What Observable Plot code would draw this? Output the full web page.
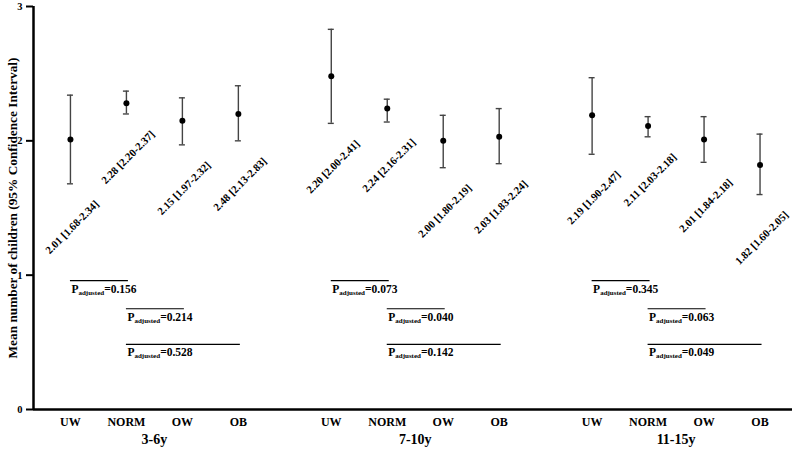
<!DOCTYPE html>
<html><head><meta charset="utf-8">
<script src="https://cdn.jsdelivr.net/npm/d3@7"></script>
<script src="https://cdn.jsdelivr.net/npm/@observablehq/plot@0.6"></script>
<style>
body{margin:0;background:#fff}
svg text{font-weight:bold}
</style>
</head><body><div id="chart"></div>
<script>
const groups = ["3-6y", "7-10y", "11-15y"];
const categories = ["UW", "NORM", "OW", "OB"];
// plotted means and 95% CI (as drawn), grouped 3-6y, 7-10y, 11-15y
const means = [2.01, 2.28, 2.15, 2.20, 2.48, 2.24, 2.00, 2.03, 2.19, 2.11, 2.01, 1.82];
const lower = [1.68, 2.20, 1.97, 2.00, 2.13, 2.14, 1.80, 1.83, 1.90, 2.03, 1.84, 1.60];
const upper = [2.34, 2.37, 2.32, 2.41, 2.83, 2.31, 2.19, 2.24, 2.47, 2.18, 2.18, 2.05];
const ciLabels = ["2.01 [1.68-2.34]", "2.28 [2.20-2.37]", "2.15 [1.97-2.32]", "2.48 [2.13-2.83]",
                  "2.20 [2.00-2.41]", "2.24 [2.16-2.31]", "2.00 [1.80-2.19]", "2.03 [1.83-2.24]",
                  "2.19 [1.90-2.47]", "2.11 [2.03-2.18]", "2.01 [1.84-2.18]", "1.82 [1.60-2.05]"];
const comparisons = [["UW", "NORM"], ["NORM", "OW"], ["NORM", "OB"]];
const pValues = [["0.156", "0.214", "0.528"], ["0.073", "0.040", "0.142"], ["0.345", "0.063", "0.049"]];
const bracketLevels = [0.96, 0.75, 0.485];
const yTicks = [0, 1, 2, 3];
const yLabel = "Mean number of children (95% Confidence Interval)";

// layout: category slot position on a linear x scale
const groupStep = 4.66;
const pos = (g, c) => g * groupStep + categories.indexOf(c);

const rows = [];
groups.forEach((g, gi) => categories.forEach((c, ci) => {
  const k = gi * categories.length + ci;
  rows.push({group: g, cat: c, x: pos(gi, c), mean: means[k], lo: lower[k], hi: upper[k], label: ciLabels[k]});
}));
const brackets = [];
groups.forEach((g, gi) => comparisons.forEach(([a, b], j) => {
  brackets.push({x1: pos(gi, a), x2: pos(gi, b), y: bracketLevels[j], text: "P_adjusted=" + pValues[gi][j]});
}));
const xTicks = rows.map(d => d.x);
const xDomain = [-0.66, 12.9];
const serif = "'Liberation Serif', 'Times New Roman', serif";

const svg = Plot.plot({
  width: 800, height: 449,
  marginLeft: 33, marginRight: 8, marginTop: 6, marginBottom: 40,
  style: {fontFamily: serif, background: "#fff", color: "#000"},
  x: {domain: xDomain, axis: null},
  y: {domain: [0, 3], axis: null},
  marks: [
    Plot.axisY(yTicks, {tickSize: 7, tickPadding: 4, fontSize: 10.5, fontWeight: "bold", label: null, tickFormat: d => d, strokeWidth: 2}),
    Plot.axisX(xTicks, {tickSize: 0, tickPadding: 8, fontSize: 12, fontWeight: "bold", label: null,
      tickFormat: d => rows.find(r => Math.abs(r.x - d) < 1e-9).cat}),
    Plot.text(groups, {x: (d, i) => pos(i, categories[0]) + 1.5, frameAnchor: "bottom", lineAnchor: "bottom", dy: 34, fontSize: 14, fontWeight: "bold"}),
    Plot.text([yLabel], {frameAnchor: "left", textAnchor: "middle", lineAnchor: "middle", rotate: -90, dx: -21, dy: 0, fontSize: 13.3, fontWeight: "bold"}),
    Plot.ruleX([xDomain[0]], {strokeWidth: 2.5, stroke: "#000"}),
    Plot.ruleY([0], {strokeWidth: 2.5, stroke: "#000"}),
    // error bars
    Plot.ruleX(rows, {x: "x", y1: "lo", y2: "hi", stroke: "#444", strokeWidth: 1.4}),
    Plot.ruleY(rows, {x1: "x", x2: "x", y: "lo", insetLeft: -3, insetRight: -3, stroke: "#444", strokeWidth: 1.4}),
    Plot.ruleY(rows, {x1: "x", x2: "x", y: "hi", insetLeft: -3, insetRight: -3, stroke: "#444", strokeWidth: 1.4}),
    Plot.dot(rows, {x: "x", y: "mean", r: 3, fill: "#000"}),
    // CI labels
    Plot.text(rows, {x: "x", y: "lo", text: "label", rotate: -45, textAnchor: "end", lineAnchor: "bottom", dx: 29, dy: 21, fontSize: 10.8, fontWeight: "bold"}),
    // P-adjusted brackets
    Plot.ruleY(brackets, {x1: "x1", x2: "x2", y: "y", insetRight: -2, stroke: "#000", strokeWidth: 1.2}),
    Plot.text(brackets, {x: "x1", y: "y", text: "text", textAnchor: "start", lineAnchor: "bottom", dx: 1, dy: 12, fontSize: 11.5, fontWeight: "bold"})
  ]
});

// rich text for P_adjusted
d3.select(svg).selectAll("text").each(function () {
  const t = this.textContent;
  if (/^P_adjusted=/.test(t)) {
    const val = t.replace("P_adjusted", "");
    const s = d3.select(this);
    s.text(null);
    s.append("tspan").text("P");
    s.append("tspan").attr("font-size", "7px").attr("dy", "2").text("adjusted");
    s.append("tspan").attr("dy", "-2").text(val);
  }
});
document.getElementById("chart").appendChild(svg);
</script>
</body></html>
